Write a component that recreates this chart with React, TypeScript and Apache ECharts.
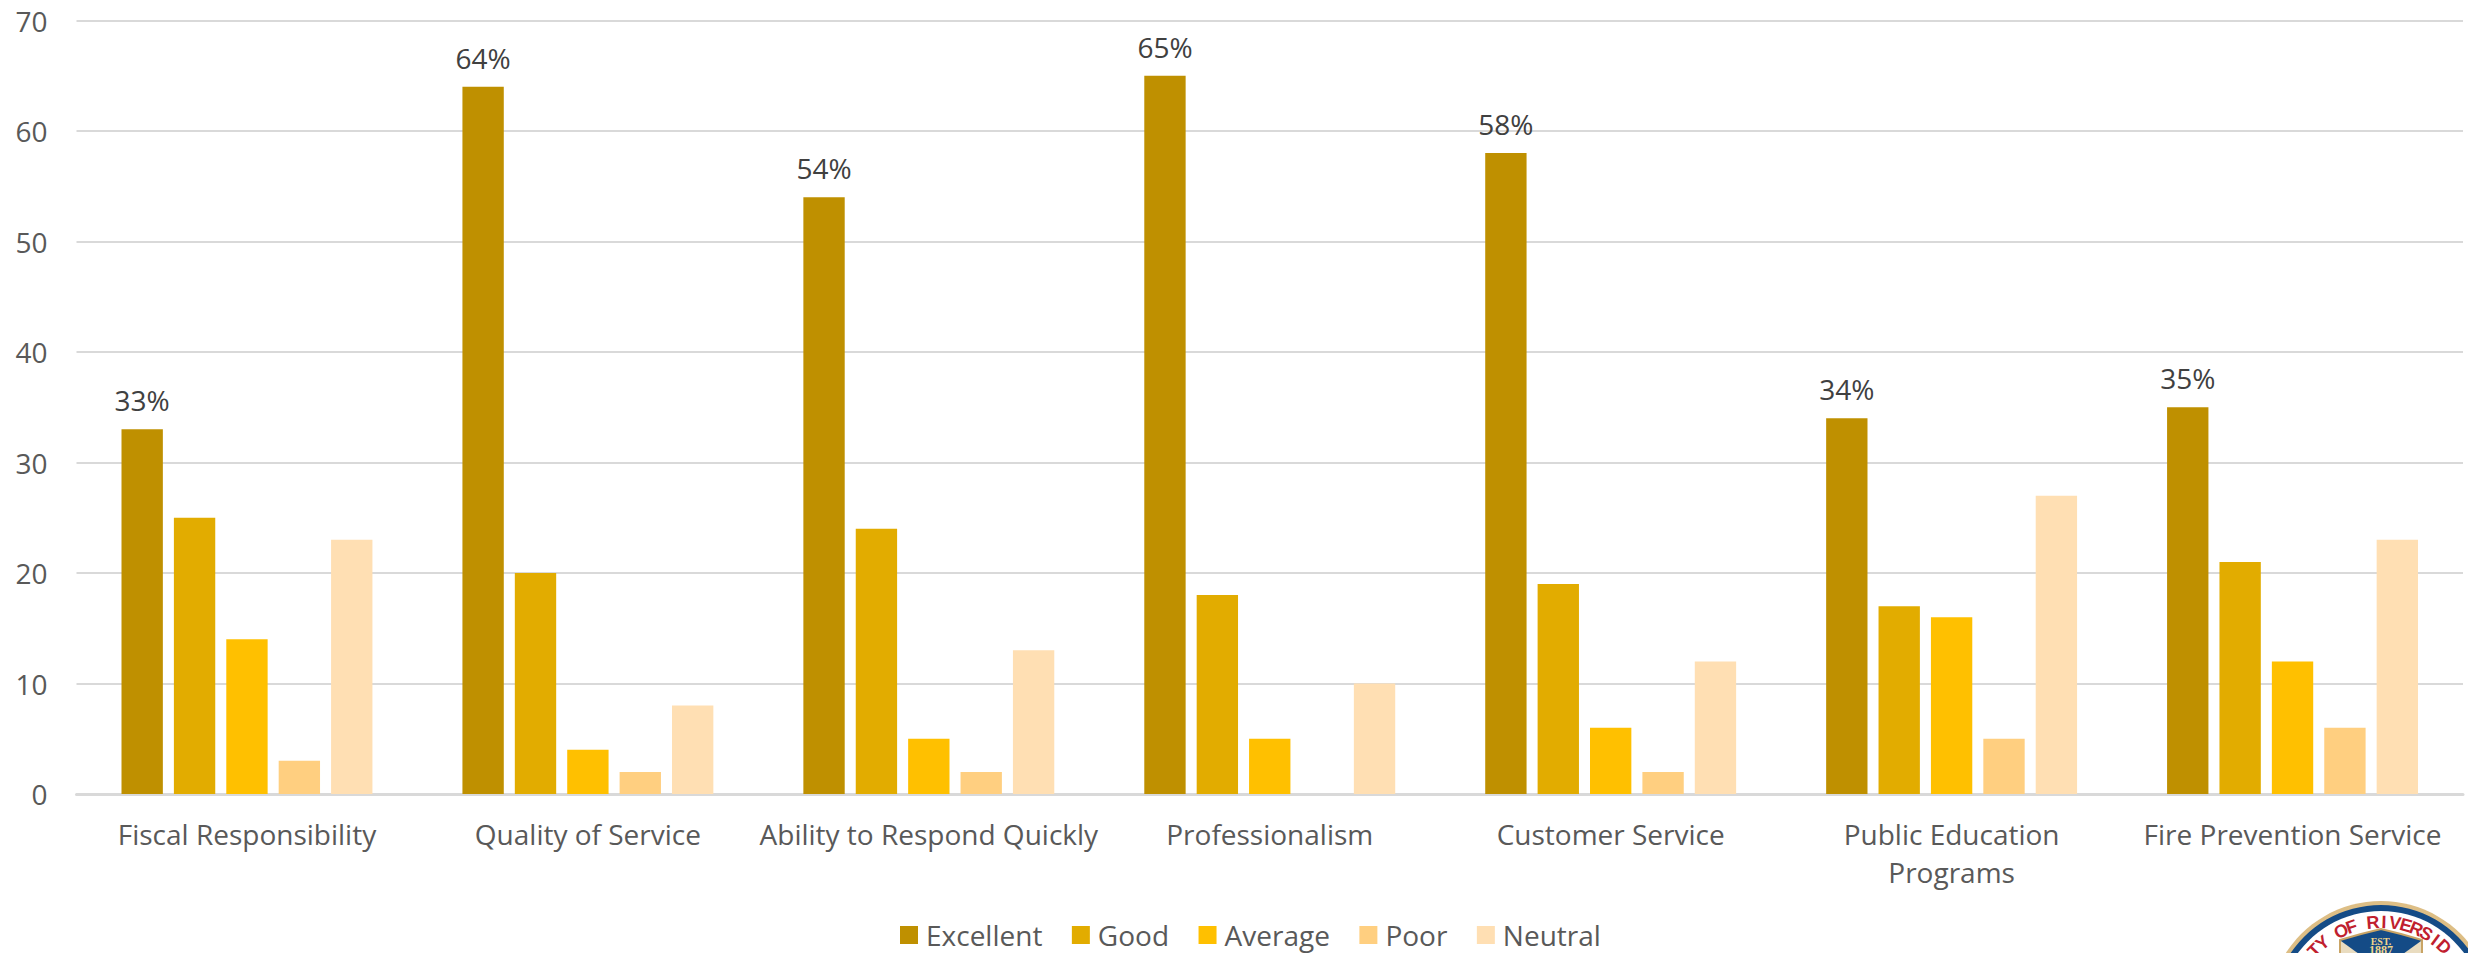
import React, { useEffect, useRef } from "react";
import * as echarts from "echarts";

const categories = [
  "Fiscal Responsibility",
  "Quality of Service",
  "Ability to Respond Quickly",
  "Professionalism",
  "Customer Service",
  "Public Education\nPrograms",
  "Fire Prevention Service",
];
const excellent = [33, 64, 54, 65, 58, 34, 35];
const good = [25, 20, 24, 18, 19, 17, 21];
const average = [14, 4, 5, 5, 6, 16, 12];
const poor = [3, 2, 2, 0, 2, 5, 6];
const neutral = [23, 8, 13, 10, 12, 27, 23];
const yTicks = { min: 0, max: 70, interval: 10 };
const sealText = "ITY OF RIVERSID";
const FONT = "Open Sans";
const CX = 2381, CY = 1014;

function sealLetters() {
  const r = 92, step = 0.12, mid = 7.725; // position of the seal's top among its letters
  return sealText.split("").map((ch, i) => {
    const a = (i - mid) * step;
    return {
      type: "text",
      x: CX + r * Math.sin(a),
      y: CY - r * Math.cos(a),
      rotation: -a,
      style: { text: ch, fill: "#C01F2F", font: `bold 18px "Liberation Sans"`, align: "center", verticalAlign: "middle" },
      silent: true,
    };
  });
}

export default function App() {
  const ref = useRef<HTMLDivElement>(null);
  useEffect(() => {
    const chart = echarts.init(ref.current!, undefined, { renderer: "svg" });
    const mk = (name: string, data: number[], color: string, labelled = false) => ({
      name,
      type: "bar",
      data,
      barGap: "26.7%",
      barCategoryGap: "26.4%",
      itemStyle: { color },
      label: labelled
        ? { show: true, position: "top", distance: 15, formatter: "{c}%", color: "#404040", fontFamily: FONT, fontSize: 28 }
        : { show: false },
    });
    chart.setOption({
      animation: false,
      backgroundColor: "#fff",
      grid: { left: 76.5, right: 5, top: 20.5, bottom: 159 },
      legend: {
        top: 916,
        left: 895,
        itemWidth: 18,
        itemHeight: 18,
        itemGap: 29.5,
        icon: "rect",
        selectedMode: false,
        textStyle: { color: "#595959", fontFamily: FONT, fontSize: 28, padding: [0, 0, 0, 3] },
        data: ["Excellent", "Good", "Average", "Poor", "Neutral"],
      },
      xAxis: {
        type: "category",
        data: categories,
        axisTick: { show: false },
        axisLine: { lineStyle: { color: "#D9D9D9", width: 3 } },
        axisLabel: { color: "#595959", fontFamily: FONT, fontSize: 28, margin: 21, lineHeight: 38, interval: 0 },
      },
      yAxis: {
        type: "value",
        ...yTicks,
        axisLine: { show: false },
        axisTick: { show: false },
        splitLine: { lineStyle: { color: "#D9D9D9", width: 2 } },
        axisLabel: { color: "#595959", fontFamily: FONT, fontSize: 28, margin: 29 },
      },
      series: [
        mk("Excellent", excellent, "#BF9000", true),
        mk("Good", good, "#E2AC00"),
        mk("Average", average, "#FFC000"),
        mk("Poor", poor, "#FFCF80"),
        mk("Neutral", neutral, "#FFDFB3"),
      ],
      graphic: [
        { type: "circle", shape: { cx: CX, cy: CY, r: 113 }, style: { fill: "#DDBE85" }, silent: true },
        { type: "circle", shape: { cx: CX, cy: CY, r: 109 }, style: { fill: "#144B86" }, silent: true },
        { type: "circle", shape: { cx: CX, cy: CY, r: 103 }, style: { fill: "#FFFFFF" }, silent: true },
        ...sealLetters(),
        {
          type: "polygon",
          shape: { points: [[CX - 41, CY - 74], [CX - 20, CY - 80], [CX, CY - 85], [CX + 20, CY - 80], [CX + 41, CY - 74], [CX + 41, CY - 60], [CX - 41, CY - 60]] },
          style: { fill: "#144B86", stroke: "#C9A465", lineWidth: 2 },
          silent: true,
        },
        { type: "polygon", shape: { points: [[CX - 40, CY - 73], [CX - 22, CY - 60], [CX - 40, CY - 60]] }, style: { fill: "#E9DCC0" }, silent: true },
        { type: "polygon", shape: { points: [[CX + 40, CY - 73], [CX + 22, CY - 60], [CX + 40, CY - 60]] }, style: { fill: "#E9DCC0" }, silent: true },
        { type: "text", x: CX, y: CY - 73, style: { text: "EST.", fill: "#F0D58A", font: `bold 10px "Liberation Serif"`, align: "center", verticalAlign: "middle" }, silent: true },
        { type: "text", x: CX, y: CY - 64, style: { text: "1887", fill: "#F0D58A", font: `bold 12px "Liberation Serif"`, align: "center", verticalAlign: "middle" }, silent: true },
      ],
    });
    return () => chart.dispose();
  }, []);
  return <div ref={ref} style={{ position: "absolute", left: 0, top: 0, width: 2468, height: 953 }} />;
}
